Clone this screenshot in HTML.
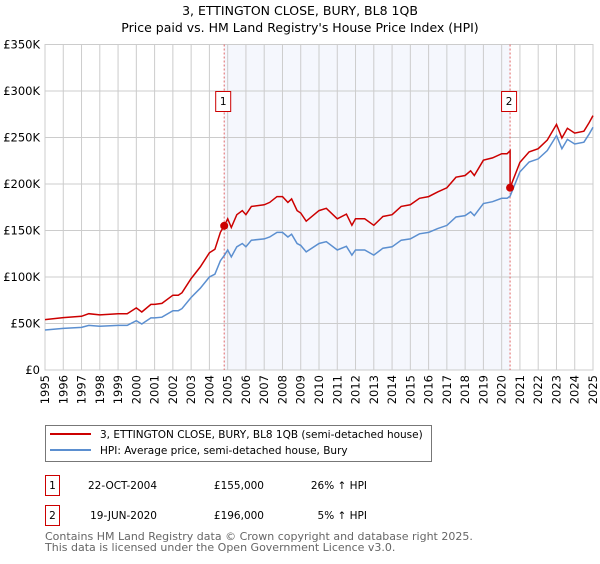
<!DOCTYPE html>
<html><head><meta charset="utf-8"><style>
body{margin:0;background:#fff;width:600px;height:560px;overflow:hidden;font-family:"DejaVu Sans","Liberation Sans",sans-serif}
</style></head><body>
<svg id="chart" width="600" height="560" xmlns="http://www.w3.org/2000/svg" font-family="DejaVu Sans, Liberation Sans, sans-serif">
<text x="300" y="15" text-anchor="middle" font-size="12.5">3, ETTINGTON CLOSE, BURY, BL8 1QB</text>
<text x="300" y="32" text-anchor="middle" font-size="12.5">Price paid vs. HM Land Registry's House Price Index (HPI)</text>
<g id="plot"></g>
<g>
<rect x="45.5" y="425.5" width="386" height="36" fill="#fff" stroke="#777"/>
<line x1="50" y1="434" x2="91" y2="434" stroke="#cc0000" stroke-width="2"/>
<text x="100" y="438" font-size="10.5">3, ETTINGTON CLOSE, BURY, BL8 1QB (semi-detached house)</text>
<line x1="50" y1="450" x2="91" y2="450" stroke="#5b8fd0" stroke-width="2"/>
<text x="100" y="454" font-size="10.5">HPI: Average price, semi-detached house, Bury</text>
</g>
<g font-size="10.5">
<rect x="45.5" y="475.5" width="14" height="20" fill="#fff" stroke="#cc0000"/>
<text x="52.5" y="489" text-anchor="middle">1</text>
<text x="157" y="489" text-anchor="end">22-OCT-2004</text>
<text x="264" y="489" text-anchor="end">£155,000</text>
<text x="367" y="489" text-anchor="end">26% ↑ HPI</text>
<rect x="45.5" y="505.5" width="14" height="20" fill="#fff" stroke="#cc0000"/>
<text x="52.5" y="519" text-anchor="middle">2</text>
<text x="157" y="519" text-anchor="end">19-JUN-2020</text>
<text x="264" y="519" text-anchor="end">£196,000</text>
<text x="367" y="519" text-anchor="end">5% ↑ HPI</text>
</g>
<text x="45" y="540" font-size="11" fill="#666">Contains HM Land Registry data © Crown copyright and database right 2025.</text>
<text x="45" y="551" font-size="11" fill="#666">This data is licensed under the Open Government Licence v3.0.</text>
</svg>
<script>
const hpiYears=[1995,1996,1997,1997.4,1998,1999,1999.5,2000,2000.3,2000.8,2001,2001.4,2002,2002.3,2002.5,2003,2003.5,2004,2004.3,2004.6,2004.81,2005,2005.2,2005.5,2005.8,2006,2006.3,2007,2007.3,2007.7,2008,2008.3,2008.5,2008.8,2009,2009.3,2010,2010.4,2011,2011.5,2011.8,2012,2012.5,2013,2013.5,2014,2014.5,2015,2015.5,2016,2016.5,2017,2017.5,2018,2018.3,2018.5,2019,2019.5,2020,2020.3,2020.46,2021,2021.5,2022,2022.5,2023,2023.3,2023.6,2024,2024.5,2024.8,2025];
const hpiValues=[43,44.7,45.8,48,47,48,48,53,49.5,56,56,56.8,63.8,63.8,66,78,88,100,103,117.5,123,129,121.6,132.5,136,132.5,139.6,141,143,148,148,143,146,136,134,127,136,138,129,133,123.5,129,129,123.5,131,132.5,139.6,141,146.5,148,152,155.5,164.5,166,170,166,179,181,184.6,184.6,187,213,223.7,227,236,252,238,248,243,245,254,261];
const saleYears=[2004.81,2020.46];
const salePrices=[155,196];
const yTicks=[0,50,100,150,200,250,300,350];
const yTickLabels=["£0","£50K","£100K","£150K","£200K","£250K","£300K","£350K"];
const xTicks=[1995,1996,1997,1998,1999,2000,2001,2002,2003,2004,2005,2006,2007,2008,2009,2010,2011,2012,2013,2014,2015,2016,2017,2018,2019,2020,2021,2022,2023,2024,2025];

const NS="http://www.w3.org/2000/svg";
const L=45,R=593,T=44.5,B=370;
const X=y=>L+(y-1995)/30*(R-L);
const Y=v=>B-v/350*(B-T);
const g=document.getElementById('plot');
function mk(t,a){const e=document.createElementNS(NS,t);for(const k in a)e.setAttribute(k,a[k]);g.appendChild(e);return e;}
function hpiAt(t){for(let i=1;i<hpiYears.length;i++){if(t<=hpiYears[i]){const f=(t-hpiYears[i-1])/(hpiYears[i]-hpiYears[i-1]);return hpiValues[i-1]+f*(hpiValues[i]-hpiValues[i-1]);}}return hpiValues[hpiValues.length-1];}

let e=mk('rect',{x:X(saleYears[0]),y:T,width:X(saleYears[1])-X(saleYears[0]),height:B-T,fill:'#eef2fc',opacity:0.6});


yTicks.forEach((v,i)=>{
 let l=mk('line',{x1:L,x2:R,y1:Y(v),y2:Y(v),stroke:'#ccc','stroke-width':1});
 
 
 let t=mk('text',{x:L-5,y:Y(v)+4,'text-anchor':'end','font-size':11.5});
 t.textContent=yTickLabels[i];
 
 
});
xTicks.forEach(yr=>{
 let l=mk('line',{x1:X(yr),x2:X(yr),y1:T,y2:B,stroke:'#ccc','stroke-width':1});
 
 
 let t=mk('text',{x:0,y:0,'text-anchor':'end','font-size':11.5,transform:`translate(${X(yr)+4},375) rotate(-90)`});
 t.textContent=yr;
 
 
});
e=mk('rect',{x:L,y:T,width:R-L,height:B-T,fill:'none',stroke:'#ccc'});


saleYears.forEach((s,i)=>{
 let l=mk('line',{x1:X(s),x2:X(s),y1:T,y2:B,stroke:'#e06666','stroke-width':1,'stroke-dasharray':'2,2'});
 
 
 let r=mk('rect',{x:X(s)-8.5,y:91.5,width:15,height:20,fill:'#fff',stroke:'#cc0000'});
 
 
 let t=mk('text',{x:X(s)-1,y:105,'text-anchor':'middle','font-size':10.5});
 t.textContent=String(i+1);
 
 
});
let d=hpiYears.map((t,i)=>(i?'L':'M')+X(t).toFixed(1)+','+Y(hpiValues[i]).toFixed(1)).join('');
e=mk('path',{d:d,fill:'none',stroke:'#5b8fd0','stroke-width':1.5});


const k1=salePrices[0]/hpiAt(saleYears[0]),k2=salePrices[1]/hpiAt(saleYears[1]);
let pts=[];
hpiYears.forEach((t,i)=>{if(t<saleYears[1])pts.push([t,hpiValues[i]*k1]);});
pts.push([saleYears[1],hpiAt(saleYears[1])*k1]);
pts.push([saleYears[1],salePrices[1]]);
hpiYears.forEach((t,i)=>{if(t>saleYears[1])pts.push([t,hpiValues[i]*k2]);});
d=pts.map((p,i)=>(i?'L':'M')+X(p[0]).toFixed(1)+','+Y(p[1]).toFixed(1)).join('');
e=mk('path',{d:d,fill:'none',stroke:'#cc0000','stroke-width':1.5});


saleYears.forEach((s,i)=>{
 let c=mk('circle',{cx:X(s),cy:Y(salePrices[i]),r:4,fill:'#cc0000'});
 
 
});
</script>
</body></html>
